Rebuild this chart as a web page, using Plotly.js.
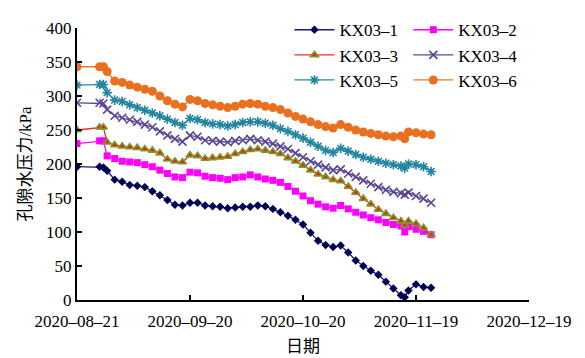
<!DOCTYPE html>
<html>
<head>
<meta charset="utf-8">
<script src="https://cdn.plot.ly/plotly-3.0.1.min.js"></script>
<style>html,body{margin:0;padding:0;background:#fff;}#chart{width:585px;height:358px;}</style>
</head>
<body>
<div id="chart"></div>
<script>
const dates = ["2020-08-21","2020-08-27","2020-08-28","2020-08-29","2020-08-31","2020-09-02","2020-09-04","2020-09-06","2020-09-08","2020-09-10","2020-09-12","2020-09-14","2020-09-16","2020-09-18","2020-09-20","2020-09-22","2020-09-24","2020-09-26","2020-09-28","2020-09-30","2020-10-02","2020-10-04","2020-10-06","2020-10-08","2020-10-10","2020-10-12","2020-10-14","2020-10-16","2020-10-18","2020-10-20","2020-10-22","2020-10-24","2020-10-26","2020-10-28","2020-10-30","2020-11-01","2020-11-03","2020-11-05","2020-11-07","2020-11-09","2020-11-11","2020-11-13","2020-11-15","2020-11-16","2020-11-17","2020-11-19","2020-11-21","2020-11-23"];

const seriesNames = ["KX03–1","KX03–2","KX03–3","KX03–4","KX03–5","KX03–6"];

const kx1 = [196,196,195,190,177,174,169,168,166,160,154,147,140,139,143,143,139,138,137,135,136,137,137,139,138,134,129,124,118,111,99,87,81,78,80,70,58,50,43,37,27,17,7,4,14,23,19,18];
const kx2 = [230,234,234,212,208,204,203,202,199,196,191,186,181,180,188,187,182,180,179,177,180,181,184,181,178,176,173,167,160,153,146,141,137,135,139,134,129,125,121,118,114,111,109,100,108,104,101,96];
const kx3 = [250,254,254,232,228,226,225,224,222,220,216,207,204,203,213,212,208,209,210,211,215,218,221,222,220,218,215,209,204,198,191,185,181,177,175,167,158,149,141,133,127,121,116,110,116,112,106,96];
const kx4 = [290,290,289,280,271,268,265,262,258,254,248,242,237,233,242,240,235,234,233,232,234,235,237,235,233,230,226,222,216,210,204,199,195,191,192,186,181,176,171,166,162,159,157,155,158,153,149,143];
const kx5 = [316,317,317,305,294,292,287,283,279,275,271,266,261,257,267,265,261,259,258,256,258,261,262,262,260,257,252,248,243,238,232,226,220,217,223,219,214,210,207,204,201,199,197,194,200,199,196,189];
const kx6 = [343,343,343,336,322,320,316,313,310,307,300,293,288,284,295,293,289,287,285,283,285,288,289,288,285,283,280,275,270,266,262,258,255,253,258,254,250,247,245,243,241,240,241,237,247,246,244,243];

const xTickVals = ["2020-08-21","2020-09-20","2020-10-20","2020-11-19","2020-12-19"];
const xTickText = ["2020–08–21","2020–09–20","2020–10–20","2020–11–19","2020–12–19"];
const yTickVals = [0,50,100,150,200,250,300,350,400];

const serif = "Liberation Serif, 'Times New Roman', 'Noto Sans CJK SC', serif";

function tr(y, i, lineColor, marker, legendId) {
  return {
    x: dates, y: y, name: seriesNames[i], type: 'scatter', mode: 'lines+markers',
    line: {color: lineColor, width: 1.3},
    marker: marker,
    legend: legendId
  };
}

const data = [
  tr(kx1, 0, '#1a1a6e', {symbol:'diamond', size:6.5, color:'#000055'}, 'legend'),
  tr(kx2, 1, '#ff00ff', {symbol:'square', size:7, color:'#ff00ff'}, 'legend2'),
  tr(kx3, 2, '#e8302a', {symbol:'triangle-up', size:7, color:'#e8201a', line:{color:'#7c9a2c', width:1.6}}, 'legend'),
  tr(kx4, 3, '#5e4a92', {symbol:'x-thin-open', size:8, color:'#5a4590', line:{color:'#5a4590', width:1.6}}, 'legend2'),
  tr(kx5, 4, '#2a8aa6', {symbol:'asterisk-open', size:8, color:'#23849f', line:{color:'#23849f', width:1.6}}, 'legend'),
  tr(kx6, 5, '#e8782a', {symbol:'circle', size:9, color:'#e8701e'}, 'legend2')
];

const legendCommon = {
  font: {family: serif, size: 17, color: '#000'},
  bgcolor: 'rgba(0,0,0,0)',
  tracegroupgap: 0,
  itemwidth: 40,
  yanchor: 'top',
  xanchor: 'left'
};

const layout = {
  width: 585, height: 358,
  margin: {l: 77, r: 56, t: 16, b: 58},
  paper_bgcolor: '#fff', plot_bgcolor: '#fff',
  font: {family: serif, size: 17, color: '#000'},
  xaxis: {
    type: 'date',
    range: ['2020-08-21', '2020-12-19'],
    tickmode: 'array', tickvals: xTickVals, ticktext: xTickText,
    ticks: 'inside', ticklen: 5, tickwidth: 2, tickcolor: '#000',
    ticklabelstandoff: 5,
    showline: true, linecolor: '#000', linewidth: 2,
    showgrid: false, zeroline: false,
    tickfont: {family: serif, size: 17, color: '#000'},
    title: {text: '日期', font: {family: serif, size: 17, color: '#000'}, standoff: 10}
  },
  yaxis: {
    range: [0, 400],
    tickmode: 'array', tickvals: yTickVals,
    ticks: 'inside', ticklen: 5, tickwidth: 2, tickcolor: '#000',
    showline: true, linecolor: '#000', linewidth: 2,
    showgrid: false, zeroline: false,
    tickfont: {family: serif, size: 17, color: '#000'},
    title: {text: '孔隙水压力/kPa', font: {family: serif, size: 17, color: '#000'}, standoff: 10}
  },
  legend: Object.assign({x: 0.47, y: 1.058}, legendCommon),
  legend2: Object.assign({x: 0.733, y: 1.058}, legendCommon),
  showlegend: true
};

Plotly.newPlot('chart', data, layout, {displayModeBar: false, staticPlot: true});
</script>
</body>
</html>
